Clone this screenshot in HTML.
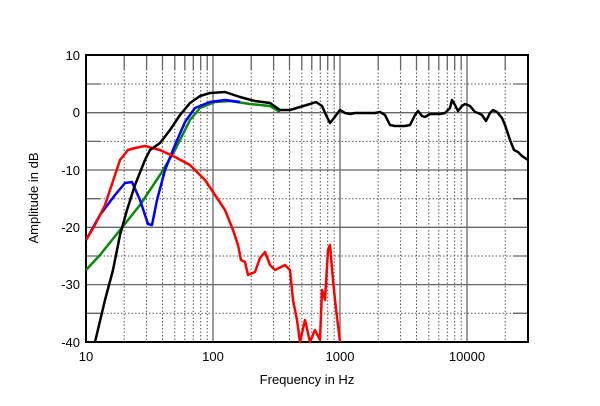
<!DOCTYPE html>
<html><head><style>body{margin:0;background:#fff}svg{display:block}text{font-family:"Liberation Sans",sans-serif;fill:#000}</style></head><body>
<svg width="600" height="406" xmlns="http://www.w3.org/2000/svg">
<path fill="none" stroke="#555" stroke-width="1" stroke-dasharray="1.5,2" d="M124.2,55V342M146.6,55V342M162.5,55V342M174.8,55V342M184.8,55V342M193.3,55V342M200.7,55V342M207.2,55V342M251.2,55V342M273.6,55V342M289.5,55V342M301.8,55V342M311.8,55V342M320.3,55V342M327.7,55V342M334.2,55V342M378.2,55V342M400.6,55V342M416.5,55V342M428.8,55V342M438.8,55V342M447.3,55V342M454.7,55V342M461.2,55V342M505.2,55V342M86,84H528M86,141.4H528M86,198.7H528M86,256H528M86,313.3H528"/>
<path fill="none" stroke="#666" stroke-width="1.3" d="M124.2,55V70M146.6,55V70M162.5,55V70M174.8,55V70M184.8,55V70M193.3,55V70M200.7,55V70M207.2,55V70M251.2,55V70M273.6,55V70M289.5,55V70M301.8,55V70M311.8,55V70M320.3,55V70M327.7,55V70M334.2,55V70M378.2,55V70M400.6,55V70M416.5,55V70M428.8,55V70M438.8,55V70M447.3,55V70M454.7,55V70M461.2,55V70M505.2,55V70M86,84H100M86,141.4H100M86,198.7H100M86,256H100M86,313.3H100M513,84H528M513,141.4H528M513,198.7H528M513,256H528M513,313.3H528M213,55V342M340,55V342M467,55V342M86,112.7H528M86,170H528M86,227.3H528M86,284.6H528"/>
<rect x="86" y="55" width="442" height="287" fill="none" stroke="#000" stroke-width="2"/>
<g fill="none" stroke-width="2.5" stroke-linejoin="round">
<polyline stroke="#0a8a0a" points="86,270 100,255 120,230 140,205 160,175 175,150 190,120 200,108 215,102 230,101 250,104 270,106 280,112"/>
<polyline stroke="#00f" points="86,240 100,215 115,195 125,183 132,182 140,200 148,224 152,225 157,200 165,170 175,145 185,122 195,108 210,102 225,100 240,102"/>
<polyline stroke="#f00" points="86,240 95,225 105,205 120,160 128,150 135,148 145,146 160,150 175,157 190,165 205,180 215,195 225,210 233,230 238,245 241,260 245,262 248,275 255,272 260,258 265,252 270,265 275,270 285,265 290,270 293,300 297,320 300,342 305,320 310,342 315,330 320,340 322,290 325,300 328,250 330,245 333,280 335,300 340,342"/>
<polyline stroke="#000" points="95,342 105,300 113,270 120,235 127,210 135,185 145,160 150,150 160,143 170,130 180,115 190,103 200,96 210,93 225,92 240,97 255,101 270,103 280,110 290,110 300,107 310,104 316,102 322,106 326,115 330,123 334,118 340,110 345,113 350,114 355,113 375,113 380,112 385,115 390,125 395,126 405,126 410,125 415,115 418,111 422,116 425,117 430,114 440,114 445,113 450,108 452,100 455,105 458,111 462,106 465,104 470,106 475,112 478,113 482,115 486,121 490,113 493,110 497,112 502,118 505,125 510,140 514,150 518,152 522,156 528,160"/>
</g>
<g font-size="13" text-anchor="end">
<text x="80" y="60">10</text><text x="80" y="117">0</text><text x="80" y="175">-10</text><text x="80" y="232">-20</text><text x="80" y="289">-30</text><text x="80" y="347">-40</text>
</g>
<g font-size="13" text-anchor="middle">
<text x="86" y="361">10</text><text x="213" y="361">100</text><text x="340" y="361">1000</text><text x="467" y="361">10000</text>
<text x="307" y="384">Frequency in Hz</text>
</g>
<text font-size="13" text-anchor="middle" transform="translate(38,198) rotate(-90)">Amplitude in dB</text>
</svg>
</body></html>
